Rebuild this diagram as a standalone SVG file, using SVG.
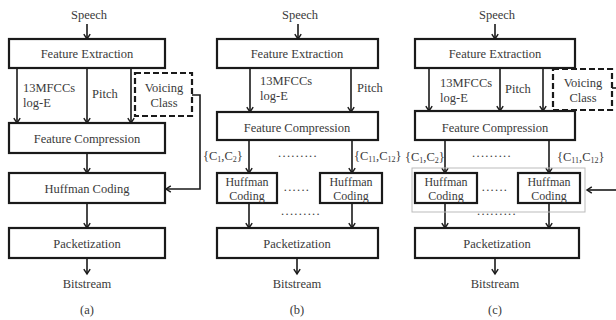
<svg xmlns="http://www.w3.org/2000/svg" width="616" height="320" viewBox="0 0 616 320" font-family="'Liberation Serif','Times New Roman',serif">
<style>
text{font-family:"Liberation Serif","Times New Roman",serif;font-size:12.5px;fill:#3a3a3a}
.m{text-anchor:middle}
.s{font-size:12px}
.sub{font-size:8px}
.dots{letter-spacing:1.3px}
.box{fill:#fff;stroke:#1a1a1a;stroke-width:2.2}
.dash{fill:#fff;stroke:#1a1a1a;stroke-width:2.2;stroke-dasharray:6,3}
.ln{fill:none;stroke:#1a1a1a;stroke-width:1.6}
.arr{marker-end:url(#ah)}
.grp{fill:none;stroke:#bbb;stroke-width:1}
</style>
<defs>
<marker id="ah" viewBox="0 0 10 10" refX="8" refY="5" markerWidth="8" markerHeight="8" markerUnits="userSpaceOnUse" orient="auto">
<path d="M2,1 L8,5 L2,9" fill="none" stroke="#1a1a1a" stroke-width="1.8"/>
</marker>
</defs>

<g id="connectors">
<line class="ln arr" x1="87" y1="24" x2="87" y2="39"/>
<line class="ln arr" x1="17" y1="68" x2="17" y2="123"/>
<line class="ln arr" x1="87" y1="68" x2="87" y2="123"/>
<line class="ln arr" x1="131" y1="68" x2="131" y2="123"/>
<line class="ln arr" x1="87" y1="153" x2="87" y2="173"/>
<line class="ln arr" x1="87" y1="203" x2="87" y2="228"/>
<line class="ln arr" x1="87" y1="258" x2="87" y2="274"/>
<polyline class="ln arr" points="192,95 200,95 200,189 166,189"/>
<line class="ln arr" x1="298" y1="24" x2="298" y2="39"/>
<line class="ln arr" x1="250" y1="68" x2="250" y2="112"/>
<line class="ln arr" x1="351" y1="68" x2="351" y2="112"/>
<line class="ln arr" x1="249" y1="140" x2="249" y2="173"/>
<line class="ln arr" x1="352" y1="140" x2="352" y2="173"/>
<line class="ln arr" x1="249" y1="203" x2="249" y2="228"/>
<line class="ln arr" x1="352" y1="203" x2="352" y2="228"/>
<line class="ln arr" x1="297" y1="258" x2="297" y2="274"/>
<line class="ln arr" x1="495" y1="24" x2="495" y2="39"/>
<line class="ln arr" x1="429" y1="68" x2="429" y2="111"/>
<line class="ln arr" x1="500" y1="68" x2="500" y2="111"/>
<line class="ln arr" x1="543" y1="68" x2="543" y2="111"/>
<line class="ln" x1="612" y1="88" x2="616" y2="88"/>
<line class="ln arr" x1="445" y1="140" x2="445" y2="173"/>
<line class="ln arr" x1="549" y1="140" x2="549" y2="173"/>
<line class="ln arr" x1="616" y1="190" x2="587" y2="190"/>
<line class="ln arr" x1="445" y1="203" x2="445" y2="228"/>
<line class="ln arr" x1="549" y1="203" x2="549" y2="228"/>
<line class="ln arr" x1="495" y1="258" x2="495" y2="274"/>
</g>

<g id="a-speech"><text class="m" x="89" y="19">Speech</text></g>
<g id="a-fe"><rect class="box" x="9" y="39" width="156" height="29"/><text class="m" x="87" y="58">Feature Extraction</text></g>
<g id="a-lbl"><text x="23" y="92">13MFCCs</text><text x="23" y="107">log-E</text><text x="92" y="98">Pitch</text></g>
<g id="a-vc"><rect class="dash" x="135" y="73" width="57" height="43"/><text class="m" x="164" y="92">Voicing</text><text class="m" x="164" y="107">Class</text></g>
<g id="a-fc"><rect class="box" x="9" y="123" width="156" height="30"/><text class="m" x="87" y="143">Feature Compression</text></g>
<g id="a-hc"><rect class="box" x="9" y="173" width="156" height="30"/><text class="m" x="87" y="193">Huffman Coding</text></g>
<g id="a-pk"><rect class="box" x="9" y="228" width="156" height="30"/><text class="m" x="87" y="248">Packetization</text></g>
<g id="a-bs"><text class="m" x="87" y="288">Bitstream</text><text class="m" x="87" y="314">(a)</text></g>

<g id="b-speech"><text class="m" x="300" y="19">Speech</text></g>
<g id="b-fe"><rect class="box" x="217" y="39" width="161" height="29"/><text class="m" x="297" y="58">Feature Extraction</text></g>
<g id="b-lbl"><text x="260" y="85">13MFCCs</text><text x="260" y="100">log-E</text><text x="357" y="92">Pitch</text></g>
<g id="b-fc"><rect class="box" x="217" y="112" width="161" height="28"/><text class="m" x="297" y="132">Feature Compression</text></g>
<g id="b-c"><text x="203" y="160">{C<tspan class="sub" dy="2">1</tspan><tspan dy="-2">,C</tspan><tspan class="sub" dy="2">2</tspan><tspan dy="-2">}</tspan></text>
<text x="354" y="160">{C<tspan class="sub" dy="2">11</tspan><tspan dy="-2">,C</tspan><tspan class="sub" dy="2">12</tspan><tspan dy="-2">}</tspan></text>
<text class="m dots" x="298" y="157">.........</text></g>
<g id="b-hc1"><rect class="box" x="217" y="173" width="60" height="30"/><text class="m s" x="247" y="186">Huffman</text><text class="m s" x="247" y="200">Coding</text></g>
<g id="b-hc2"><rect class="box" x="320" y="173" width="62" height="30"/><text class="m s" x="351" y="186">Huffman</text><text class="m s" x="351" y="200">Coding</text></g>
<g id="b-dots"><text class="m dots" x="297" y="191">......</text><text class="m dots" x="301" y="215">.........</text></g>
<g id="b-pk"><rect class="box" x="217" y="228" width="161" height="30"/><text class="m" x="297" y="248">Packetization</text></g>
<g id="b-bs"><text class="m" x="297" y="288">Bitstream</text><text class="m" x="297" y="314">(b)</text></g>

<g id="c-speech"><text class="m" x="497" y="19">Speech</text></g>
<g id="c-fe"><rect class="box" x="415" y="39" width="160" height="29"/><text class="m" x="495" y="58">Feature Extraction</text></g>
<g id="c-lbl"><text x="440" y="87">13MFCCs</text><text x="440" y="102">log-E</text><text x="505" y="93">Pitch</text></g>
<g id="c-vc"><rect class="dash" x="553" y="69" width="59" height="41"/><text class="m" x="583" y="87">Voicing</text><text class="m" x="583" y="102">Class</text></g>
<g id="c-fc"><rect class="box" x="415" y="111" width="160" height="29"/><text class="m" x="495" y="132">Feature Compression</text></g>
<g id="c-c"><text x="405" y="161">{C<tspan class="sub" dy="2">1</tspan><tspan dy="-2">,C</tspan><tspan class="sub" dy="2">2</tspan><tspan dy="-2">}</tspan></text>
<text x="557" y="161">{C<tspan class="sub" dy="2">11</tspan><tspan dy="-2">,C</tspan><tspan class="sub" dy="2">12</tspan><tspan dy="-2">}</tspan></text>
<text class="m dots" x="492" y="157">.........</text></g>
<g id="c-group"><rect class="grp" x="412" y="168" width="173" height="44"/></g>
<g id="c-hc1"><rect class="box" x="415" y="173" width="62" height="30"/><text class="m s" x="446" y="186">Huffman</text><text class="m s" x="446" y="200">Coding</text></g>
<g id="c-hc2"><rect class="box" x="518" y="173" width="62" height="30"/><text class="m s" x="549" y="186">Huffman</text><text class="m s" x="549" y="200">Coding</text></g>
<g id="c-dots"><text class="m dots" x="495" y="191">......</text><text class="m dots" x="497" y="215">.........</text></g>
<g id="c-pk"><rect class="box" x="415" y="228" width="164" height="30"/><text class="m" x="497" y="248">Packetization</text></g>
<g id="c-bs"><text class="m" x="495" y="288">Bitstream</text><text class="m" x="495" y="314">(c)</text></g>
</svg>
